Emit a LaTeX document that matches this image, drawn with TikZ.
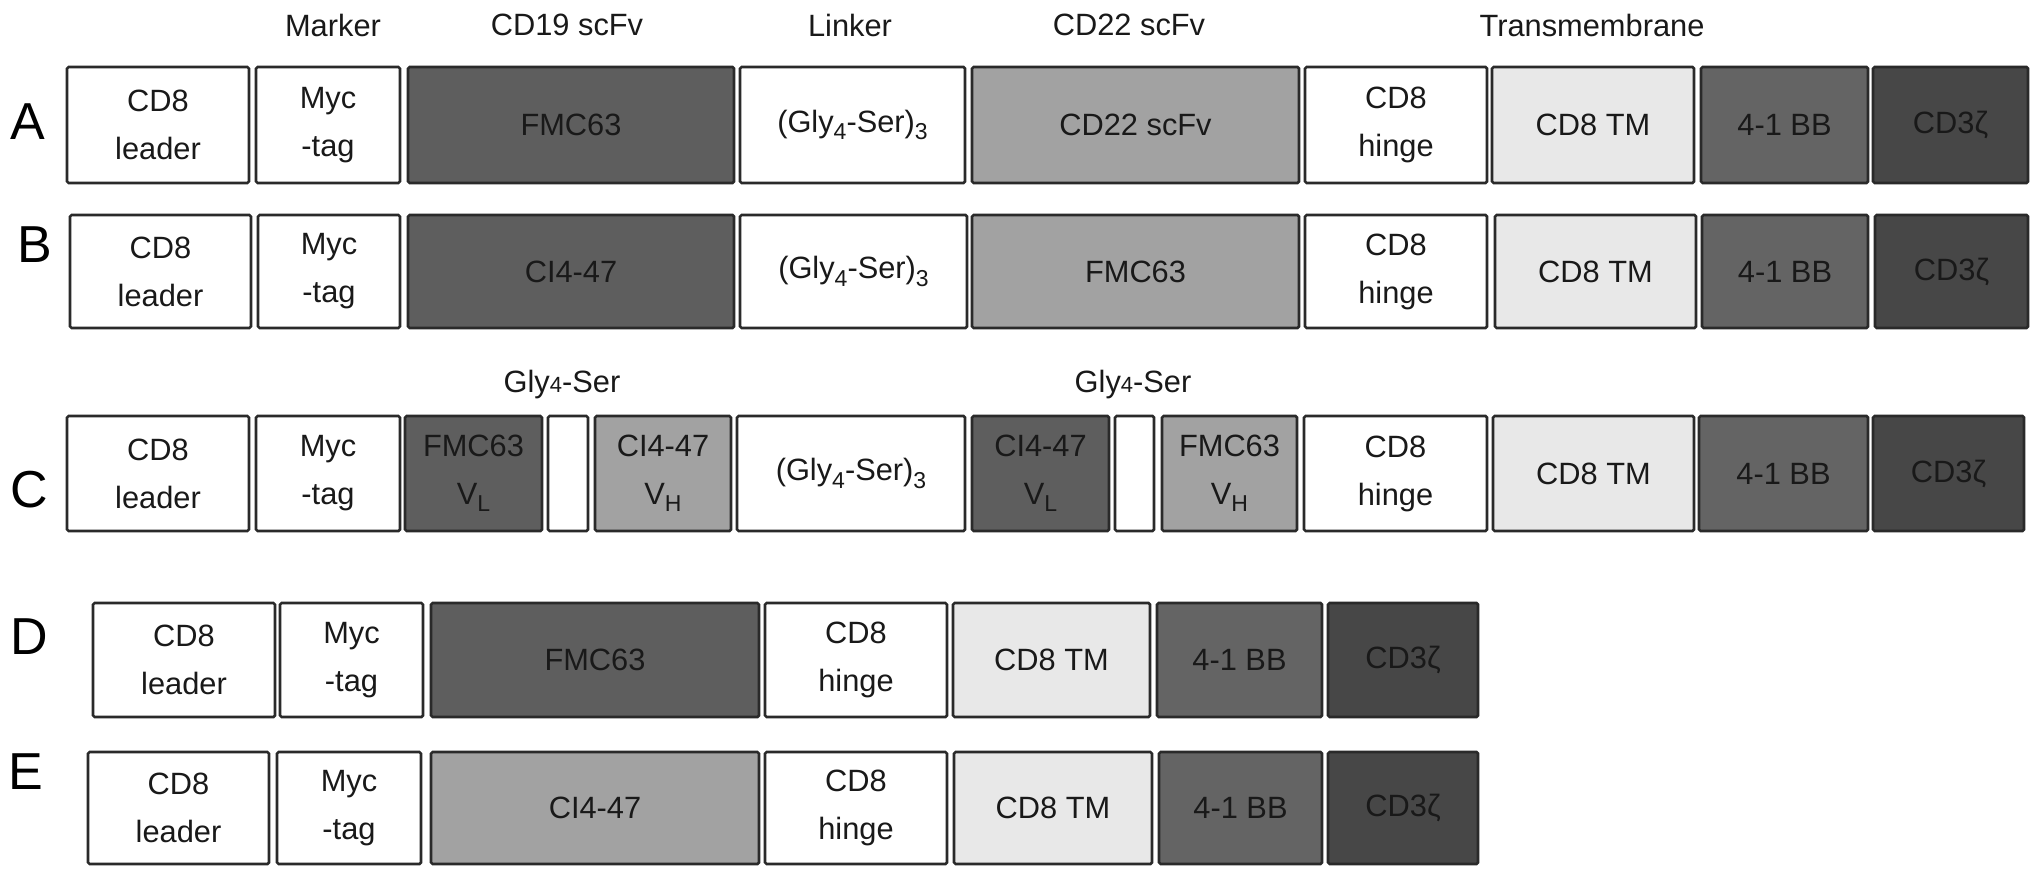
\documentclass[tikz,border=0pt]{standalone}
\usepackage{fontspec}
\setmainfont{Liberation Sans}
\definecolor{cdark}{HTML}{5E5E5E}
\definecolor{cmid}{HTML}{A2A2A2}
\definecolor{clight}{HTML}{E8E8E8}
\definecolor{cbb}{HTML}{646464}
\definecolor{czeta}{HTML}{474747}
\definecolor{cedge}{HTML}{2A2A2A}
\newcommand{\lsub}[1]{\raisebox{-0.45ex}{\fontsize{11.5}{11.5}\selectfont #1}}
\newcommand{\blk}[7]{\node[blk, fill=#6, minimum width={(#3-#2)*0.5pt}, minimum height={(#5-#4)*0.5pt}] (#1) at ({(#2+#3)/2},{(#4+#5)/2}) {#7};}
\begin{document}
\begin{tikzpicture}[x=0.5pt,y=-0.5pt,
  blk/.style={draw=cedge, line width=1.3pt, rounded corners=0.8pt, inner sep=0pt, outer sep=0pt,
    align=center, font=\fontsize{15.4}{24}\selectfont, text=black!90},
  hdr/.style={font=\fontsize{15.4}{18}\selectfont, text=black!90, inner sep=0pt},
  rowlbl/.style={font=\fontsize{26}{26}\selectfont, inner sep=0pt}]
\useasboundingbox[fill=white] (0,0) rectangle (2032,877);
% headers
\node[hdr] (hMarker) at (333,25) {Marker};
\node[hdr] (hCD19) at (567,25) {CD19 scFv};
\node[hdr] (hLinker) at (850,25) {Linker};
\node[hdr] (hCD22) at (1129,25) {CD22 scFv};
\node[hdr] (hTM) at (1592,25) {Transmembrane};
\node[hdr] (hGlyA) at (562,385) {Gly{\fontsize{11}{11}\selectfont 4}-Ser};
\node[hdr] (hGlyB) at (1133,385) {Gly{\fontsize{11}{11}\selectfont 4}-Ser};
% row labels
\node[rowlbl] (lA) at (28,122) {A};
\node[rowlbl] (lB) at (35,245) {B};
\node[rowlbl] (lC) at (29,490) {C};
\node[rowlbl] (lD) at (29,637) {D};
\node[rowlbl] (lE) at (26,772) {E};
% Row A
\blk{a1}{67}{249}{67}{183}{white}{CD8\\leader}
\blk{a2}{256}{400}{67}{183}{white}{Myc\\-tag}
\blk{a3}{408}{734}{67}{183}{cdark}{FMC63}
\blk{a4}{740}{965}{67}{183}{white}{(Gly\lsub{4}-Ser)\lsub{3}}
\blk{a5}{972}{1299}{67}{183}{cmid}{CD22 scFv}
\blk{a6}{1305}{1487}{67}{183}{white}{CD8\\hinge}
\blk{a7}{1492}{1694}{67}{183}{clight}{CD8 TM}
\blk{a8}{1701}{1868}{67}{183}{cbb}{4-1 BB}
\blk{a9}{1873}{2028}{67}{183}{czeta}{CD3ζ}
% Row B
\blk{b1}{70}{251}{215}{328}{white}{CD8\\leader}
\blk{b2}{258}{400}{215}{328}{white}{Myc\\-tag}
\blk{b3}{408}{734}{215}{328}{cdark}{CI4-47}
\blk{b4}{740}{967}{215}{328}{white}{(Gly\lsub{4}-Ser)\lsub{3}}
\blk{b5}{972}{1299}{215}{328}{cmid}{FMC63}
\blk{b6}{1305}{1487}{215}{328}{white}{CD8\\hinge}
\blk{b7}{1495}{1696}{215}{328}{clight}{CD8 TM}
\blk{b8}{1702}{1868}{215}{328}{cbb}{4-1 BB}
\blk{b9}{1875}{2028}{215}{328}{czeta}{CD3ζ}
% Row C
\blk{c1}{67}{249}{416}{531}{white}{CD8\\leader}
\blk{c2}{256}{400}{416}{531}{white}{Myc\\-tag}
\blk{c3}{405}{542}{416}{531}{cdark}{FMC63\\V\lsub{L}}
\blk{c4}{548}{588}{416}{531}{white}{}
\blk{c5}{595}{731}{416}{531}{cmid}{CI4-47\\V\lsub{H}}
\blk{c6}{737}{965}{416}{531}{white}{(Gly\lsub{4}-Ser)\lsub{3}}
\blk{c7}{972}{1109}{416}{531}{cdark}{CI4-47\\V\lsub{L}}
\blk{c8}{1115}{1154}{416}{531}{white}{}
\blk{c9}{1162}{1297}{416}{531}{cmid}{FMC63\\V\lsub{H}}
\blk{c10}{1304}{1487}{416}{531}{white}{CD8\\hinge}
\blk{c11}{1493}{1694}{416}{531}{clight}{CD8 TM}
\blk{c12}{1699}{1868}{416}{531}{cbb}{4-1 BB}
\blk{c13}{1873}{2024}{416}{531}{czeta}{CD3ζ}
% Row D
\blk{d1}{93}{275}{603}{717}{white}{CD8\\leader}
\blk{d2}{280}{423}{603}{717}{white}{Myc\\-tag}
\blk{d3}{431}{759}{603}{717}{cdark}{FMC63}
\blk{d4}{765}{947}{603}{717}{white}{CD8\\hinge}
\blk{d5}{953}{1150}{603}{717}{clight}{CD8 TM}
\blk{d6}{1157}{1322}{603}{717}{cbb}{4-1 BB}
\blk{d7}{1328}{1478}{603}{717}{czeta}{CD3ζ}
% Row E
\blk{e1}{88}{269}{752}{864}{white}{CD8\\leader}
\blk{e2}{277}{421}{752}{864}{white}{Myc\\-tag}
\blk{e3}{431}{759}{752}{864}{cmid}{CI4-47}
\blk{e4}{765}{947}{752}{864}{white}{CD8\\hinge}
\blk{e5}{954}{1152}{752}{864}{clight}{CD8 TM}
\blk{e6}{1159}{1322}{752}{864}{cbb}{4-1 BB}
\blk{e7}{1328}{1478}{752}{864}{czeta}{CD3ζ}
\end{tikzpicture}
\end{document}
